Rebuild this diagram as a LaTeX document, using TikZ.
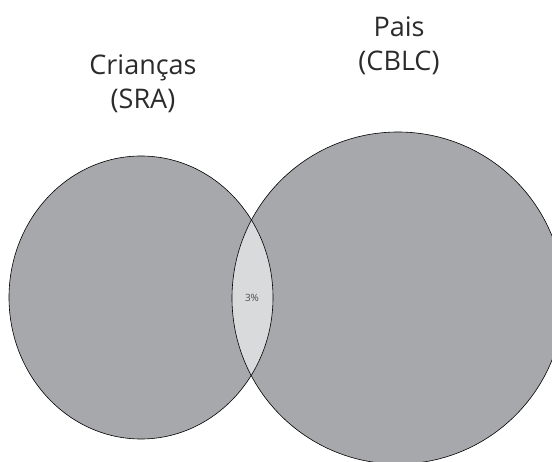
\documentclass[tikz,border=0pt]{standalone}
\usepackage{fontspec}
\setmainfont{Open Sans}
\usetikzlibrary{positioning, shapes.geometric}
\definecolor{setgray}{HTML}{A7A8AB}
\definecolor{lensgray}{HTML}{D9DADC}
\definecolor{textgray}{HTML}{2B2B2B}

\begin{document}
\begin{tikzpicture}[x=1pt, y=-1pt,
  set/.style={ellipse, fill=setgray, inner sep=0pt},
  rim/.style={draw=black, line width=0.6pt},
  title/.style={font=\fontsize{27}{34}\selectfont, text=textgray, align=center}]
\useasboundingbox (0,0) rectangle (552,462);
\clip (0,0) rectangle (552,462);
% sets %
\node[set, minimum width=264pt, minimum height=283pt] (kids) at (141,297.5) {};
\node[set, minimum width=332pt, minimum height=332pt] (parents) at (398,298) {};
% overlap %
\begin{scope}
  \clip (kids.center) ellipse[x radius=132pt, y radius=141.5pt];
  \fill[lensgray] (parents.center) circle[radius=166pt];
\end{scope}
\draw[rim] (kids.center) ellipse[x radius=132pt, y radius=141.5pt];
\draw[rim] (parents.center) circle[radius=166pt];
% labels %
\node[title] (kidsname) at (143,83.5) {Crianças\\(SRA)};
\node[title] (parentsname) at (399,45.5) {Pais\\(CBLC)};
\node[font=\fontsize{10}{12}\selectfont, text=black!70] (share) at (252,298) {3\%};
\end{tikzpicture}
\end{document}
